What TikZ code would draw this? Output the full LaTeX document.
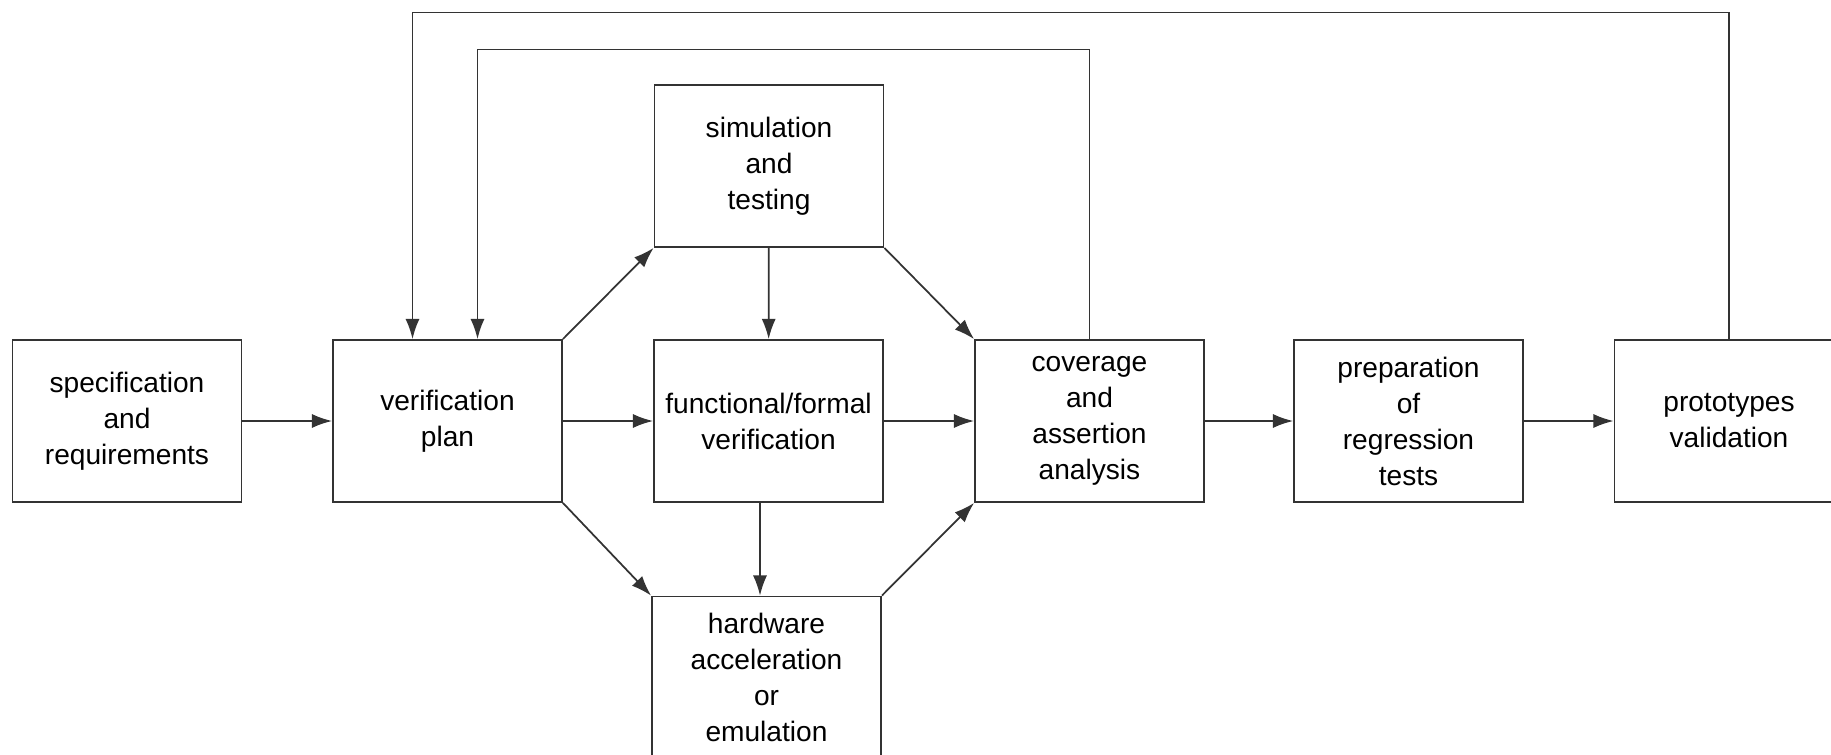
\documentclass[tikz,border=0pt]{standalone}
\usepackage{fontspec}
\setmainfont{Liberation Sans}
\usetikzlibrary{arrows.meta}
\tikzset{
    block/.style={draw=black!80, line width=1pt, minimum width=4.58cm, minimum height=3.24cm,
        align=center, inner sep=2pt, font=\fontsize{16}{20.5}\selectfont},
    flow/.style={draw=black!80, line width=1pt, -{Latex[length=11.5pt,width=8pt]}},
}

\begin{document}
\begin{tikzpicture}
\useasboundingbox (0,0) rectangle (36.62,-15.1);
\node[block] (spec) at (2.54,-8.42) {specification\\and\\requirements};
\node[block] (plan) at (8.95,-8.42) {verification\\plan};
\node[block] (sim) at (15.38,-3.32) {simulation\\and\\testing};
\node[block] (func) at (15.37,-8.42) {functional/formal\\verification};
\node[block] (hw) at (15.33,-13.55) {hardware\\acceleration\\or\\emulation};
\node[block] (cov) at (21.79,-8.42) {coverage\\and\\assertion\\analysis};
\node[block] (prep) at (28.17,-8.42) {preparation\\of\\regression\\tests};
\node[block] (proto) at (34.58,-8.42) {prototypes\\validation};
\coordinate (innerL) at (9.55,-0.99);
\coordinate (outerL) at (8.25,-0.25);
\draw[flow] (spec) -- (plan);
\draw[flow] (plan) -- (func);
\draw[flow] (plan.north east) -- (sim.south west);
\draw[flow] (plan.south east) -- (hw.north west);
\draw[flow] (sim) -- (func);
\draw[flow] ([xshift=-0.17cm]func.south) -- ([xshift=-0.17cm]func.south |- hw.north);
\draw[flow] (sim.south east) -- (cov.north west);
\draw[flow] (func) -- (cov);
\draw[flow] (hw.north east) -- (cov.south west);
\draw[flow] (cov) -- (prep);
\draw[flow] (prep) -- (proto);
% feedback loops
\draw[flow] (cov.north) |- (innerL) -- (innerL |- plan.north);
\draw[flow] (proto.north) |- (outerL) -- (outerL |- plan.north);
\end{tikzpicture}
\end{document}
